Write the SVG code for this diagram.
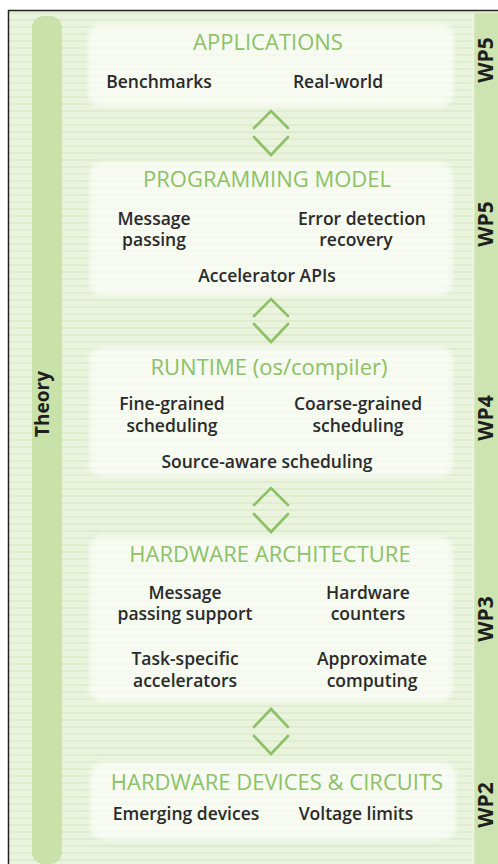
<svg xmlns="http://www.w3.org/2000/svg" width="498" height="864" viewBox="0 0 498 864">
<defs>
<pattern id="stripes" width="8" height="7" patternUnits="userSpaceOnUse">
<rect width="8" height="7" fill="#eaf3de"/>
<rect width="8" height="2" y="5" fill="#dfecce"/>
</pattern>
<filter id="soft" x="-10%" y="-10%" width="120%" height="120%"><feGaussianBlur stdDeviation="2"/></filter>
</defs>
<style>
.panel{fill:#fbfdf7;fill-opacity:0.75;filter:url(#soft)}
.head{font-family:"Open Sans",sans-serif;font-size:22px;fill:#8cc167;text-anchor:middle}
.txt{font-family:"Open Sans",sans-serif;font-size:17.5px;font-weight:600;fill:#2a2a2a;text-anchor:middle}
.side{font-family:"Open Sans",sans-serif;font-weight:bold;fill:#1e1e1e;text-anchor:middle}
.chev{fill:none;stroke:#8cc167;stroke-width:2.6;stroke-linecap:round;stroke-linejoin:miter}
</style>
<g id="background">
<rect x="8.5" y="10.5" width="500" height="860" fill="url(#stripes)" stroke="#222" stroke-width="1.5"/>
<rect x="32" y="16" width="30" height="848" rx="12" fill="#c8e2aa"/>
<rect x="473" y="13" width="30" height="852" fill="#cde4b1"/>
<line x1="473.5" y1="13" x2="473.5" y2="864" stroke="#eef5e4" stroke-width="1.5"/>
</g>
<g id="panel-applications">
<rect class="panel" x="88" y="23" width="366" height="84" rx="14"/>
<text class="head" x="268" y="50">APPLICATIONS</text>
<text class="txt" x="159" y="88">Benchmarks</text>
<text class="txt" x="338" y="88">Real-world</text>
</g>
<g id="panel-programming">
<rect class="panel" x="89" y="162" width="364" height="134" rx="14"/>
<text class="head" x="267" y="187">PROGRAMMING MODEL</text>
<text class="txt" x="154" y="225">Message<tspan x="154" dy="21">passing</tspan></text>
<text class="txt" x="362" y="225">Error detection<tspan x="356" dy="21">recovery</tspan></text>
<text class="txt" x="267" y="282">Accelerator APIs</text>
</g>
<g id="panel-runtime">
<rect class="panel" x="89" y="347" width="364" height="130" rx="14"/>
<text class="head" x="269" y="375">RUNTIME (os/compiler)</text>
<text class="txt" x="172" y="410">Fine-grained<tspan x="172" dy="22">scheduling</tspan></text>
<text class="txt" x="358" y="410">Coarse-grained<tspan x="358" dy="22">scheduling</tspan></text>
<text class="txt" x="267" y="468">Source-aware scheduling</text>
</g>
<g id="panel-hardware-architecture">
<rect class="panel" x="89" y="536" width="364" height="166" rx="14"/>
<text class="head" x="270" y="562">HARDWARE ARCHITECTURE</text>
<text class="txt" x="185" y="599">Message<tspan x="185" dy="21">passing support</tspan></text>
<text class="txt" x="368" y="599">Hardware<tspan x="368" dy="21">counters</tspan></text>
<text class="txt" x="185" y="665">Task-specific<tspan x="185" dy="22">accelerators</tspan></text>
<text class="txt" x="372" y="665">Approximate<tspan x="372" dy="22">computing</tspan></text>
</g>
<g id="panel-devices">
<rect class="panel" x="90" y="762" width="366" height="78" rx="14"/>
<text class="head" x="277" y="790">HARDWARE DEVICES &amp; CIRCUITS</text>
<text class="txt" x="186" y="820">Emerging devices</text>
<text class="txt" x="356" y="820">Voltage limits</text>
</g>
<g id="theory">
<text class="side" font-size="19" transform="translate(49 404) rotate(-90)">Theory</text>
</g>
<g id="wp-labels">
<text class="side" font-size="21" transform="translate(493 60) rotate(-90)">WP5</text>
<text class="side" font-size="21" transform="translate(493 224) rotate(-90)">WP5</text>
<text class="side" font-size="21" transform="translate(493 418) rotate(-90)">WP4</text>
<text class="side" font-size="21" transform="translate(493 619) rotate(-90)">WP3</text>
<text class="side" font-size="21" transform="translate(493 805) rotate(-90)">WP2</text>
</g>
<g id="connectors">
<polyline class="chev" points="254,128 271,111 288,128"/>
<polyline class="chev" points="254,137 271,155 288,137"/>
<polyline class="chev" points="254,316 271,299 288,316"/>
<polyline class="chev" points="254,324 271,342 288,324"/>
<polyline class="chev" points="254,505 271,488 288,505"/>
<polyline class="chev" points="254,514 271,532 288,514"/>
<polyline class="chev" points="254,727 271,709 288,727"/>
<polyline class="chev" points="254,736 271,754 288,736"/>
</g>
</svg>
